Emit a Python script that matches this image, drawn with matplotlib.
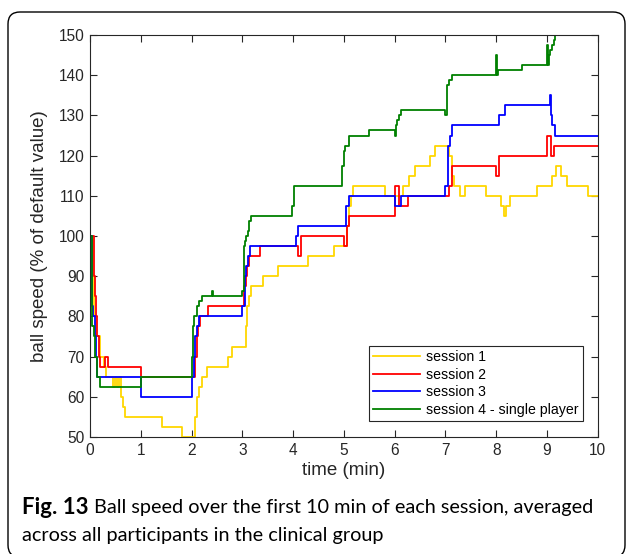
import matplotlib
matplotlib.use("Agg")
import matplotlib.pyplot as plt
from matplotlib.patches import FancyBboxPatch

# ---------------------------------------------------
# DATOS (tiempo en minutos, velocidad en % del valor por defecto)
# ---------------------------------------------------
t_s1 = [0, 0.06, 0.08, 0.12, 0.2, 0.28, 0.32, 0.45, 0.5, 0.54, 0.58, 0.62, 0.65, 0.68,
        1.41, 1.81, 2.07, 2.1, 2.15, 2.2, 2.31, 2.72, 2.8, 3.07, 3.1, 3.14, 3.18, 3.4,
        3.7, 4.29, 4.8, 5.07, 5.1, 5.14, 5.18, 5.8, 6.16, 6.28, 6.4, 6.7, 6.79, 7.07,
        7.12, 7.16, 7.28, 7.39, 7.8, 8.1, 8.15, 8.19, 8.28, 8.8, 9.1, 9.18, 9.28, 9.4,
        9.8, 10]
v_s1 = [100, 90, 80, 75, 70, 67.5, 65, 62.5, 65, 62.5, 65, 60, 57.5, 55,
        52.5, 50, 55, 60, 62.5, 65, 67.5, 70, 72.5, 77.5, 82.5, 85, 87.5, 90,
        92.5, 95, 97.5, 102.5, 107.5, 110, 112.5, 110, 112.5, 115, 117.5, 120, 122.5, 120,
        115, 112.5, 110, 112.5, 110, 107.5, 105, 107.5, 110, 112.5, 115, 117.5, 115, 112.5,
        110, 110]

t_s2 = [0, 0.07, 0.1, 0.12, 0.14, 0.17, 0.2, 0.3, 0.35, 1.0, 2.07, 2.1, 2.13, 2.16,
        2.33, 3.03, 3.07, 3.1, 3.14, 3.34, 4.1, 4.15, 5.0, 5.06, 5.1, 6.0, 6.08, 6.26,
        7.07, 7.13, 8.0, 8.05, 9.0, 9.07, 9.14, 10]
v_s2 = [100, 90, 85, 80, 75, 70, 67.5, 70, 67.5, 65, 70, 75, 77.5, 80,
        82.5, 87.5, 90, 92.5, 95, 97.5, 95, 100, 97.5, 102.5, 105, 112.5, 107.5, 110,
        112.5, 117.5, 115, 120, 125, 120, 122.5, 122.5]

t_s3 = [0, 0.04, 0.05, 0.09, 0.11, 0.13, 1.0, 2.0, 2.04, 2.06, 2.1, 2.14, 3.0, 3.05,
        3.08, 3.12, 3.16, 4.05, 4.1, 5.05, 5.1, 6.0, 6.12, 7.0, 7.04, 7.08, 7.12, 8.05,
        8.17, 9.05, 9.07, 9.1, 9.16, 10]
v_s3 = [100, 82.5, 80, 75, 70, 65, 60, 65, 70, 75, 77.5, 80, 82.5, 90,
        92.5, 95, 97.5, 100, 102.5, 107.5, 110, 107.5, 110, 112.5, 122.5, 125, 127.5, 130,
        132.5, 135, 130, 127.5, 125, 125]

t_s4 = [0, 0.04, 0.07, 0.1, 0.13, 0.2, 1.0, 2.0, 2.02, 2.05, 2.1, 2.15, 2.2, 2.4,
        2.42, 3.0, 3.03, 3.06, 3.08, 3.11, 3.14, 3.18, 3.98, 4.02, 4.97, 5.0, 5.03, 5.1,
        5.5, 6.0, 6.02, 6.05, 6.08, 6.13, 7.0, 7.03, 7.06, 7.13, 8.0, 8.02, 8.04, 8.51,
        9.0, 9.02, 9.03, 9.06, 9.1, 9.13, 9.16, 10]
v_s4 = [100, 77.5, 75, 70, 65, 62.5, 65, 70, 77.5, 80, 82.5, 83.75, 85, 86.25,
        85, 86.25, 97.5, 98.75, 100, 101.25, 103.75, 105, 107.5, 112.5, 117.5, 121.25, 122.5, 125,
        126.25, 125, 127.5, 128.75, 130, 131.25, 130, 137.5, 138.75, 140, 145, 140, 141.25, 142.5,
        147.5, 142.5, 145, 146.25, 147.5, 148.75, 150, 150]

etiquetas = ["session 1", "session 2", "session 3", "session 4 - single player"]
colores = ["#FFD700", "#FF0000", "#0000FF", "#008000"]

texto_fig = "Fig. 13"
linea_1 = "Ball speed over the first 10 min of each session, averaged"
linea_2 = "across all participants in the clinical group"

# ---------------------------------------------------
# GRÁFICA
# ---------------------------------------------------
plt.rcParams["font.family"] = ["Liberation Sans", "DejaVu Sans"]

fig = plt.figure(figsize=(6.27, 5.54), dpi=100)
ax = fig.add_axes([0.1435, 0.2112, 0.810, 0.7256])

series = [(t_s1, v_s1), (t_s2, v_s2), (t_s3, v_s3), (t_s4, v_s4)]
for (t, v), lab, col in zip(series, etiquetas, colores):
    ax.plot(t, v, drawstyle="steps-post", color=col, lw=1.3, label=lab)

ax.set_xlim(0, 10)
ax.set_ylim(50, 150)
ax.set_xticks(range(0, 11))
ax.set_yticks(range(50, 151, 10))
ax.tick_params(direction="in", top=True, right=True, length=5, width=0.8,
               labelsize=11.2, colors="#262626", pad=4)
for sp in ax.spines.values():
    sp.set_color("#262626")
    sp.set_linewidth(0.8)

ax.set_xlabel("time (min)", fontsize=13.5, color="#262626", labelpad=3)
ax.set_ylabel("ball speed (% of default value)", fontsize=13.5, color="#262626", labelpad=8)

leg = ax.legend(loc="lower right", bbox_to_anchor=(0.970, 0.040), fontsize=10.2,
                frameon=True, fancybox=False, edgecolor="#262626", framealpha=1,
                handlelength=3.3, handletextpad=0.4, labelspacing=0.25,
                borderpad=0.3, borderaxespad=0)
leg.get_frame().set_linewidth(0.8)

# marco redondeado alrededor de la figura
marco = FancyBboxPatch((0.08, -0.03), 6.17, 5.45,
                       boxstyle="round,pad=0,rounding_size=0.12",
                       transform=fig.dpi_scale_trans, fill=False,
                       edgecolor="black", linewidth=1.0)
fig.add_artist(marco)

# pie de figura: "Fig. 13" en negrita y el resto normal a continuación
fuente_pie = ["Lato", "DejaVu Sans"]
x0 = 22 / 627
t_fig = fig.text(x0, 1 - 507 / 554, texto_fig, fontsize=16, fontweight="bold",
                 family=fuente_pie, va="center", ha="left")
fig.canvas.draw()
ancho = t_fig.get_window_extent().width / fig.bbox.width
fig.text(x0 + ancho + 5 / 627, 1 - 507 / 554, linea_1, fontsize=14.3,
         family=fuente_pie, va="center", ha="left")
fig.text(x0, 1 - 535 / 554, linea_2, fontsize=14.3,
         family=fuente_pie, va="center", ha="left")

fig.savefig("out.png", dpi=100)
